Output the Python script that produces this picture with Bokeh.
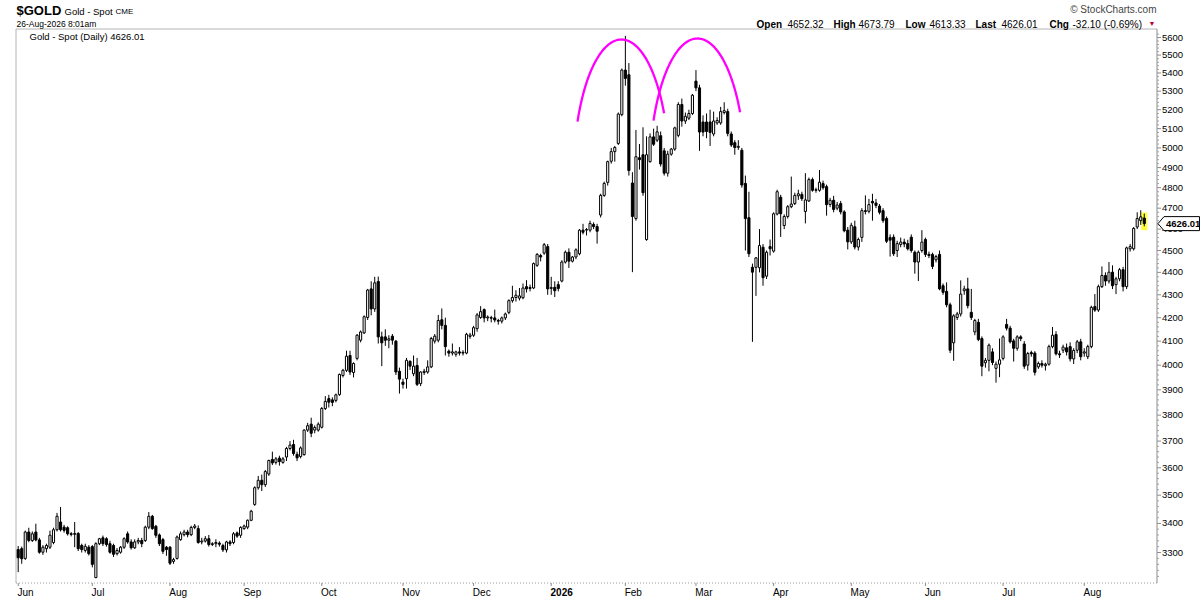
import math
import numpy as np
import pandas as pd
from bokeh.plotting import figure
from bokeh.models import Range1d, ColumnDataSource
from bokeh.core.properties import value
from bokeh.embed import file_html
from bokeh.resources import INLINE

# ---------------- texts ----------------
TICKER = "$GOLD"
NAME = "Gold - Spot"
EXCHANGE = "CME"
STAMP = "26-Aug-2026 8:01am"
LEGEND = "Gold - Spot (Daily) 4626.01"
CHANGE = "-32.10 (-0.69%)"
SITE = "\u00a9 StockCharts.com"

# ---------------- daily OHLC ----------------
OPEN = [
    3310, 3313, 3280, 3370, 3341, 3370, 3343, 3301, 3313, 3318,
    3334, 3378, 3405, 3387, 3385, 3364, 3362, 3365, 3324, 3307,
    3318, 3320, 3216, 3330, 3350, 3347, 3330, 3324, 3296, 3301,
    3318, 3364, 3336, 3316, 3336, 3341, 3341, 3387, 3425, 3390,
    3360, 3344, 3318, 3318, 3270, 3280, 3344, 3361, 3370, 3361,
    3386, 3382, 3336, 3339, 3347, 3327, 3330, 3332, 3324, 3309,
    3336, 3334, 3367, 3359, 3382, 3387, 3411, 3467, 3527, 3554,
    3538, 3577, 3631, 3620, 3636, 3620, 3640, 3672, 3687, 3650,
    3642, 3649, 3742, 3765, 3742, 3742, 3753, 3826, 3865, 3860,
    3858, 3881, 3958, 3979, 4040, 3970, 4028, 4104, 4135, 4201,
    4326, 4238, 4359, 4118, 4118, 4104, 4121, 4100, 3975, 3931,
    3945, 4016, 3965, 3999, 3925, 3970, 3972, 3993, 4100, 4104,
    4191, 4167, 4058, 4050, 4045, 4055, 4050, 4050, 4120, 4125,
    4153, 4201, 4235, 4199, 4200, 4199, 4188, 4185, 4199, 4223,
    4274, 4288, 4285, 4287, 4336, 4328, 4330, 4432, 4477, 4488,
    4518, 4328, 4333, 4345, 4361, 4447, 4492, 4451, 4470, 4485,
    4595, 4595, 4595, 4622, 4612, 4667, 4762, 4826, 4932, 4981,
    5023, 5174, 5416, 5390, 4823, 4650, 4950, 4965, 4551, 4930,
    5057, 5040, 5063, 4985, 4872, 4968, 4994, 5065, 5228, 5140,
    5155, 5180, 5355, 5318, 5135, 5135, 5135, 5072, 5130, 5130,
    5185, 5190, 5072, 5027, 5003, 4988, 4821, 4654, 4423, 4423,
    4421, 4515, 4383, 4518, 4497, 4672, 4753, 4617, 4660, 4707,
    4722, 4760, 4767, 4684, 4735, 4840, 4787, 4787, 4820, 4805,
    4718, 4738, 4700, 4722, 4682, 4595, 4540, 4611, 4516, 4561,
    4688, 4685, 4733, 4725, 4710, 4688, 4650, 4560, 4562, 4500,
    4528, 4539, 4532, 4562, 4492, 4447, 4500, 4551, 4482, 4482,
    4457, 4482, 4340, 4315, 4256, 4093, 4201, 4216, 4318, 4326,
    4223, 4139, 4180, 4111, 4010, 4020, 4055, 3987, 4004, 4028,
    4171, 4155, 4101, 4070, 4118, 4088, 4000, 4052, 4050, 3993,
    4007, 3998, 4004, 4077, 4128, 4047, 4062, 4072, 4077, 4026,
    4062, 4097, 4050, 4035, 4077, 4248, 4233, 4336, 4386, 4361,
    4401, 4345, 4371, 4412, 4336, 4508, 4508, 4610, 4640, 4652.32,
]
HIGH = [
    3322, 3320, 3375, 3385, 3372, 3399, 3350, 3325, 3330, 3375,
    3385, 3437, 3458, 3395, 3390, 3370, 3405, 3370, 3330, 3330,
    3325, 3325, 3335, 3350, 3358, 3352, 3340, 3330, 3315, 3322,
    3352, 3372, 3345, 3345, 3350, 3350, 3392, 3440, 3430, 3395,
    3365, 3350, 3322, 3322, 3282, 3358, 3372, 3378, 3378, 3392,
    3398, 3393, 3350, 3356, 3360, 3335, 3345, 3338, 3330, 3340,
    3342, 3370, 3372, 3390, 3396, 3414, 3448, 3532, 3570, 3575,
    3592, 3630, 3660, 3640, 3645, 3640, 3678, 3700, 3705, 3660,
    3680, 3745, 3770, 3790, 3760, 3772, 3832, 3875, 3880, 3870,
    3885, 3966, 3985, 4060, 4060, 4012, 4130, 4145, 4210, 4326,
    4360, 4380, 4381, 4140, 4150, 4125, 4130, 4105, 3990, 3945,
    4030, 4020, 4040, 4030, 3975, 3985, 4020, 4118, 4130, 4212,
    4240, 4200, 4065, 4090, 4060, 4075, 4062, 4135, 4135, 4165,
    4220, 4250, 4240, 4210, 4208, 4235, 4195, 4205, 4222, 4280,
    4340, 4320, 4330, 4350, 4365, 4345, 4445, 4488, 4485, 4535,
    4530, 4380, 4360, 4360, 4455, 4500, 4510, 4475, 4510, 4600,
    4625, 4605, 4640, 4632, 4625, 4770, 4830, 4935, 5000, 5010,
    5185, 5425, 5610, 5455, 4877, 5093, 5020, 5107, 5060, 5075,
    5100, 5115, 5085, 5000, 4985, 5000, 5110, 5240, 5260, 5185,
    5200, 5285, 5416, 5335, 5170, 5180, 5200, 5190, 5160, 5215,
    5240, 5205, 5085, 5040, 5040, 5000, 4860, 4780, 4440, 4470,
    4600, 4530, 4500, 4551, 4680, 4790, 4765, 4670, 4715, 4855,
    4775, 4790, 4780, 4872, 4850, 4850, 4800, 4888, 4835, 4815,
    4750, 4760, 4730, 4735, 4690, 4610, 4630, 4640, 4560, 4700,
    4762, 4745, 4770, 4745, 4720, 4700, 4660, 4575, 4575, 4545,
    4560, 4555, 4550, 4575, 4500, 4500, 4595, 4560, 4495, 4490,
    4480, 4500, 4350, 4355, 4265, 4215, 4225, 4364, 4340, 4376,
    4326, 4195, 4195, 4120, 4030, 4090, 4070, 4015, 4111, 4125,
    4195, 4165, 4110, 4125, 4125, 4100, 4055, 4060, 4058, 4015,
    4020, 4010, 4085, 4160, 4142, 4060, 4085, 4090, 4095, 4070,
    4105, 4110, 4070, 4085, 4252, 4303, 4345, 4427, 4400, 4447,
    4432, 4380, 4420, 4425, 4518, 4530, 4610, 4680, 4690, 4673.79,
]
LOW = [
    3234, 3262, 3275, 3335, 3336, 3338, 3296, 3292, 3300, 3312,
    3328, 3372, 3372, 3368, 3358, 3355, 3318, 3305, 3300, 3300,
    3290, 3250, 3214, 3325, 3322, 3320, 3296, 3285, 3290, 3296,
    3312, 3330, 3310, 3312, 3328, 3318, 3336, 3380, 3378, 3350,
    3322, 3295, 3289, 3258, 3262, 3276, 3340, 3355, 3352, 3356,
    3380, 3330, 3328, 3334, 3320, 3322, 3318, 3320, 3302, 3300,
    3322, 3328, 3350, 3350, 3378, 3380, 3408, 3462, 3520, 3515,
    3530, 3570, 3610, 3612, 3608, 3615, 3625, 3665, 3645, 3625,
    3635, 3645, 3735, 3715, 3730, 3736, 3748, 3820, 3830, 3835,
    3850, 3876, 3950, 3972, 3960, 3950, 4020, 4095, 4130, 4190,
    4210, 4225, 4090, 3996, 4080, 4070, 4085, 3960, 3885, 3905,
    3905, 3980, 3955, 3915, 3915, 3960, 3965, 3988, 4090, 4095,
    4150, 4040, 4035, 4040, 4035, 4040, 4040, 4045, 4110, 4118,
    4140, 4195, 4180, 4185, 4180, 4180, 4170, 4175, 4190, 4215,
    4265, 4270, 4275, 4280, 4310, 4315, 4325, 4425, 4450, 4480,
    4300, 4300, 4290, 4315, 4355, 4440, 4420, 4445, 4460, 4478,
    4575, 4570, 4585, 4600, 4532, 4655, 4755, 4810, 4920, 4930,
    5015, 5165, 5330, 4860, 4401, 4640, 4890, 4760, 4545, 4925,
    5010, 5030, 4905, 4860, 4855, 4960, 4985, 5055, 5110, 5125,
    5145, 5172, 5300, 4985, 5060, 5050, 5010, 5060, 5120, 5120,
    5175, 5060, 5005, 4965, 4990, 4800, 4500, 4470, 4097, 4295,
    4400, 4340, 4370, 4477, 4490, 4665, 4563, 4600, 4650, 4700,
    4715, 4740, 4735, 4627, 4730, 4780, 4775, 4780, 4790, 4664,
    4705, 4680, 4690, 4670, 4585, 4505, 4530, 4505, 4500, 4540,
    4670, 4675, 4640, 4700, 4670, 4630, 4535, 4472, 4475, 4470,
    4515, 4515, 4500, 4490, 4394, 4361, 4490, 4470, 4465, 4415,
    4445, 4320, 4300, 4245, 4050, 4018, 4190, 4205, 4300, 4240,
    4190, 4125, 4100, 3955, 3990, 3975, 4000, 3929, 3951, 4020,
    4145, 4090, 4015, 4060, 4100, 3985, 3978, 4035, 3958, 3985,
    3990, 3978, 3998, 4070, 4040, 4030, 4050, 4040, 4015, 4005,
    4050, 4020, 4035, 4025, 4070, 4225, 4225, 4330, 4340, 4350,
    4325, 4303, 4360, 4315, 4325, 4495, 4500, 4600, 4620, 4613.33,
]
CLOSE = [
    3282, 3279, 3370, 3341, 3364, 3343, 3301, 3318, 3324, 3359,
    3378, 3425, 3378, 3376, 3364, 3362, 3365, 3313, 3310, 3321,
    3296, 3260, 3330, 3347, 3330, 3327, 3301, 3294, 3307, 3318,
    3347, 3336, 3316, 3336, 3341, 3330, 3387, 3425, 3382, 3359,
    3330, 3304, 3310, 3264, 3276, 3353, 3364, 3370, 3361, 3386,
    3391, 3334, 3339, 3347, 3327, 3330, 3334, 3328, 3309, 3336,
    3330, 3364, 3356, 3386, 3391, 3411, 3443, 3527, 3554, 3538,
    3586, 3627, 3618, 3633, 3623, 3633, 3672, 3685, 3653, 3637,
    3674, 3742, 3759, 3730, 3752, 3765, 3826, 3854, 3851, 3850,
    3880, 3962, 3979, 4037, 3972, 4007, 4125, 4139, 4204, 4321,
    4238, 4353, 4118, 4093, 4104, 4110, 4104, 3972, 3943, 3922,
    4020, 3996, 3996, 3922, 3972, 3975, 3993, 4111, 4121, 4188,
    4167, 4077, 4050, 4055, 4055, 4050, 4053, 4129, 4126, 4157,
    4212, 4226, 4199, 4203, 4198, 4190, 4185, 4199, 4216, 4274,
    4288, 4298, 4295, 4330, 4326, 4332, 4440, 4482, 4470, 4527,
    4326, 4332, 4318, 4328, 4447, 4492, 4451, 4470, 4503, 4595,
    4585, 4598, 4627, 4612, 4590, 4762, 4821, 4930, 4981, 5002,
    5177, 5416, 5370, 4885, 4660, 4955, 4940, 4775, 4965, 5057,
    5019, 5083, 4918, 4872, 4968, 4994, 5104, 5228, 5140, 5165,
    5180, 5278, 5318, 5082, 5082, 5085, 5080, 5140, 5143, 5190,
    5195, 5075, 5015, 5002, 5008, 4813, 4650, 4485, 4401, 4466,
    4523, 4376, 4492, 4508, 4673, 4780, 4673, 4660, 4707, 4720,
    4762, 4770, 4746, 4740, 4840, 4787, 4790, 4827, 4800, 4717,
    4738, 4694, 4715, 4682, 4592, 4540, 4618, 4516, 4551, 4688,
    4684, 4717, 4725, 4713, 4680, 4640, 4543, 4548, 4485, 4532,
    4539, 4530, 4508, 4500, 4447, 4492, 4539, 4482, 4477, 4427,
    4472, 4326, 4311, 4256, 4062, 4208, 4216, 4303, 4326, 4252,
    4201, 4188, 4107, 3996, 4020, 4083, 4011, 4004, 4022, 4118,
    4155, 4097, 4070, 4118, 4111, 3996, 4048, 4047, 3971, 4007,
    4000, 4004, 4077, 4125, 4047, 4043, 4075, 4055, 4026, 4061,
    4097, 4035, 4055, 4077, 4245, 4233, 4336, 4386, 4361, 4401,
    4340, 4371, 4412, 4336, 4512, 4518, 4603, 4650, 4658.11, 4626.01,
]

# price-axis tick values
Y_TICKS = list(range(3300, 5700, 100))
Y_MINOR = [v for v in range(3220, 5640, 20) if v % 100]

# trading calendar (x categories)
HOLIDAYS = ["2025-07-04", "2025-12-25", "2026-01-01"]
dates = pd.bdate_range("2025-06-02", "2026-08-26").drop(pd.to_datetime(HOLIDAYS))

n = len(CLOSE)
xi = np.arange(n)
o = np.array(OPEN, float); h = np.array(HIGH, float)
l = np.array(LOW, float); c = np.array(CLOSE, float)
last = n - 1

month_idx = [i for i in range(n) if i == 0 or dates[i].month != dates[i - 1].month]
month_lab = [str(dates[i].year) if dates[i].month == 1 else dates[i].strftime("%b")
             for i in month_idx]

# ---------------- page geometry (pixel -> data scales) ----------------
W, H = 1200, 600
X0, DX = 17.7, 3.53          # page x of bar 0, pixels per bar
Y_REF, P_REF, K = 552.0, 3300.0, 973.7   # log price scale: px per ln-unit
BOX_L, BOX_R, BOX_T, BOX_B = 15.5, 1156.5, 28.5, 582.5


def X(px):
    return (px - X0) / DX


def Y(py):
    return P_REF * math.exp((Y_REF - py) / K)


def shift(v, px):
    """value moved px pixels down on the log price scale"""
    return v * math.exp(-px / K)


REG = value("Liberation Sans")

p = figure(width=W, height=H, x_range=Range1d(X(0), X(W)), y_range=Range1d(Y(H), Y(0)),
           y_axis_type="log", x_axis_location=None, y_axis_location=None,
           title_location=None, toolbar_location=None, output_backend="svg",
           min_border=0, background_fill_color="white", border_fill_color="white")
p.outline_line_color = None
p.grid.visible = False


def txt(x, y, s, size, bold=False, align="left", baseline="middle", color="black"):
    p.text(x=x, y=y, text=s, text_font=REG, text_font_size=size,
           text_font_style="bold" if bold else "normal", text_align=align,
           text_baseline=baseline, text_color=color)


# chart box
p.segment(x0=[X(BOX_L), X(BOX_L)], y0=[Y(BOX_T), Y(BOX_T)], x1=[X(BOX_R), X(BOX_L)],
          y1=[Y(BOX_T), Y(BOX_B)], line_color="#b4b4b4", line_width=1)
p.segment(x0=[X(BOX_L)], y0=[Y(BOX_B)], x1=[X(BOX_R)], y1=[Y(BOX_B)],
          line_color="#9a9a9a", line_width=1, line_dash="1 2")

# price axis (right)
p.segment(x0=[X(BOX_R)], y0=[Y(BOX_T)], x1=[X(BOX_R)], y1=[Y(BOX_B)],
          line_color="#8c8c8c", line_width=1)
p.segment(x0=[X(BOX_R)] * len(Y_TICKS), y0=Y_TICKS, x1=[X(BOX_R + 4)] * len(Y_TICKS),
          y1=Y_TICKS, line_color="#8c8c8c", line_width=1)
p.segment(x0=[X(BOX_R)] * len(Y_MINOR), y0=Y_MINOR, x1=[X(BOX_R + 2)] * len(Y_MINOR),
          y1=Y_MINOR, line_color="#a0a0a0", line_width=1)
txt([X(BOX_R + 5)] * len(Y_TICKS), Y_TICKS, [str(v) for v in Y_TICKS], "9.5px")

# time axis (bottom)
p.segment(x0=month_idx, y0=[Y(BOX_B)] * len(month_idx), x1=month_idx,
          y1=[Y(BOX_B + 3)] * len(month_idx), line_color="#8c8c8c", line_width=1)
norm = [(i, s) for i, s in zip(month_idx, month_lab) if not s.isdigit()]
bold = [(i, s) for i, s in zip(month_idx, month_lab) if s.isdigit()]
txt([i - 0.2 for i, _ in norm], [Y(591.5)] * len(norm), [s for _, s in norm], "10px")
txt([i - 0.2 for i, _ in bold], [Y(591.5)] * len(bold), [s for _, s in bold], "10px", bold=True)

# highlight of the last bar
p.quad(left=[last - 0.85], right=[last + 0.85], bottom=[shift(l[last], 4)],
       top=[shift(h[last], -1)], fill_color="#ffff3a", line_color=None)

# candles
src = ColumnDataSource(dict(
    x=xi, low=l, high=h,
    top=np.maximum(o, c), bottom=np.minimum(o, c),
    fill=["white" if cc >= oo else "black" for oo, cc in zip(o, c)],
))
p.segment(x0="x", y0="low", x1="x", y1="high", source=src, line_color="black", line_width=1)
p.vbar(x="x", width=0.6, top="top", bottom="bottom", fill_color="fill",
       line_color="black", line_width=1, source=src)

# hand-drawn double-top arcs (page geometry)
ARC_CENTERS = [(621, 176), (697, 175)]
ARC_RX, ARC_RY = 48, 137
tt = np.linspace(0.48, 2.73, 80)
for cx, cy in ARC_CENTERS:
    p.line([X(cx + ARC_RX * math.cos(t)) for t in tt],
           [Y(cy - ARC_RY * math.sin(t)) for t in tt],
           line_color="#ff00ff", line_width=2.3)

# legend line inside the chart
txt([X(29)], [Y(35.5)], [LEGEND], "9.5px")

# last-price tag on the axis
yc = c[last]
tag_x = [X(BOX_R + 1), X(BOX_R + 7), X(1199), X(1199), X(BOX_R + 7)]
tag_y = [yc, shift(yc, -7), shift(yc, -7), shift(yc, 7), shift(yc, 7)]
p.patch(tag_x, tag_y, fill_color="white", line_color="black", line_width=1)
txt([X(BOX_R + 9)], [yc], [f"{yc:.2f}"], "9.5px", bold=True)

# header
txt([X(16)], [Y(10)], [TICKER], "13px", bold=True)
txt([X(64)], [Y(10.5)], [NAME], "9.5px")
txt([X(115)], [Y(10.5)], [EXCHANGE], "8px")
txt([X(16)], [Y(23.5)], [STAMP], "8.5px")
txt([X(1156)], [Y(9)], [SITE], "10px", align="right", color="#444444")
pieces = [
    (756, "Open", True), (787, f"{o[last]:.2f}", False),
    (833, "High", True), (858, f"{h[last]:.2f}", False),
    (905, "Low", True), (929, f"{l[last]:.2f}", False),
    (975, "Last", True), (1001, f"{c[last]:.2f}", False),
    (1049, "Chg", True), (1072, CHANGE, False),
]
for px, s, b in pieces:
    txt([X(px)], [Y(23.5)], [s], "10px", bold=b)
txt([X(1148)], [Y(23)], ["\u25bc"], "7px", color="#c0002a")

open("out.html", "w").write(file_html(p, INLINE))
